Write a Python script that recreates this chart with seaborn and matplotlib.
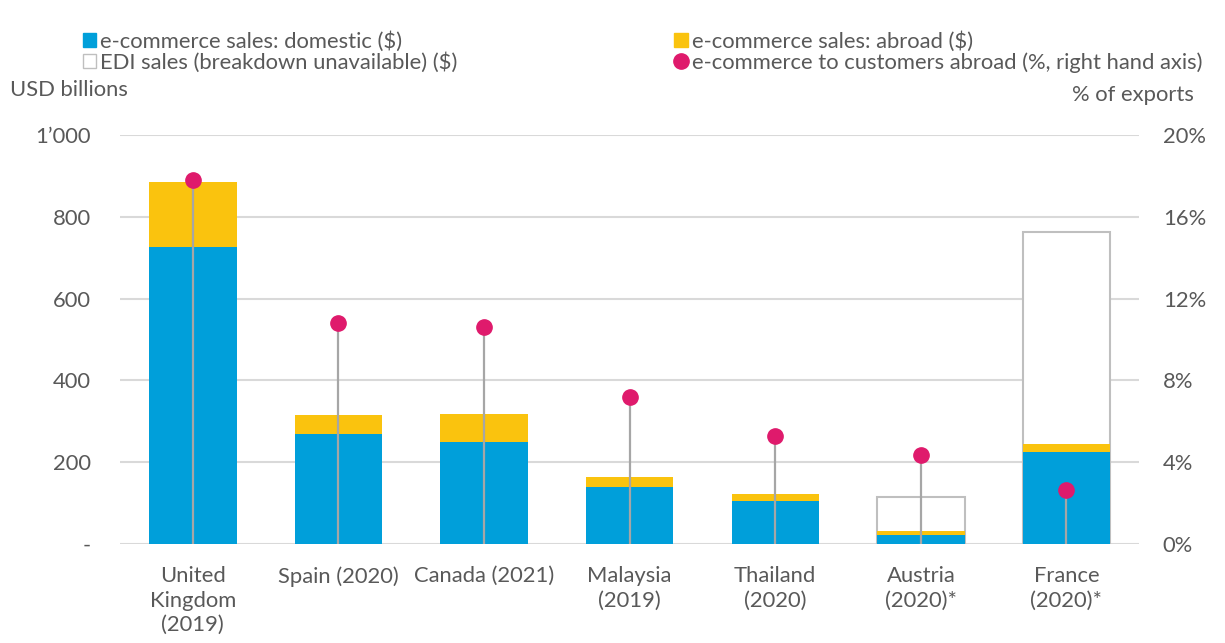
import numpy as np
import pandas as pd
import matplotlib
matplotlib.use('Agg')
import matplotlib.pyplot as plt
import seaborn as sns
from matplotlib.patches import Patch
from matplotlib.lines import Line2D
from matplotlib.ticker import FuncFormatter

# 数据
countries = ['United\nKingdom\n(2019)', 'Spain (2020)', 'Canada (2021)', 'Malaysia\n(2019)',
             'Thailand\n(2020)', 'Austria\n(2020)*', 'France\n(2020)*']
domestic = [725, 269, 250, 140, 105, 22, 225]
abroad = [161, 47, 68, 24, 17, 10, 20]
edi_total = [0, 0, 0, 0, 0, 115, 762]
pct_abroad = [17.8, 10.8, 10.6, 7.2, 5.3, 4.35, 2.65]

c_blue = '#009FDA'
c_yellow = '#FAC30E'
c_pink = '#DF1A6C'
c_grey = '#BFBFBF'
c_text = '#595959'
fs = 15.8

sns.set_style('white')
plt.rcParams['font.family'] = ['Lato', 'DejaVu Sans']
plt.rcParams['font.size'] = fs

df = pd.DataFrame({'country': countries, 'domestic': domestic, 'abroad': abroad,
                   'edi': edi_total, 'pct': pct_abroad})
df['ecom_total'] = df['domestic'] + df['abroad']

fig = plt.figure(figsize=(12.25, 6.43), dpi=100)
ax = fig.add_axes([0.098, 0.154, 0.832, 0.636])

# 叠加柱状图：EDI外框 -> 海外 -> 国内
sns.barplot(data=df, x='country', y='edi', ax=ax, color='white', edgecolor=c_grey,
            linewidth=1.5, width=0.6, saturation=1)
sns.barplot(data=df, x='country', y='ecom_total', ax=ax, color=c_yellow, width=0.6,
            saturation=1, linewidth=0)
sns.barplot(data=df, x='country', y='domestic', ax=ax, color=c_blue, width=0.6,
            saturation=1, linewidth=0)

ax.set_ylim(0, 1000)
ax.set_xlim(-0.5, 6.5)
ax.set_yticks(range(0, 1001, 200))
ax.yaxis.set_major_formatter(FuncFormatter(
    lambda v, p: '-' if v == 0 else ('1\u2019000' if v == 1000 else f'{int(v)}')))
ax.grid(axis='y', color='#D9D9D9', linewidth=1.5)
ax.set_axisbelow(True)
ax.set_xlabel('')
ax.set_ylabel('')
sns.despine(ax=ax, left=True, bottom=True)
ax.tick_params(axis='y', length=0, pad=21, colors=c_text, labelsize=fs)
ax.tick_params(axis='x', length=0, pad=16, colors=c_text, labelsize=fs)
for lab in ax.get_xticklabels():
    lab.set_linespacing(1.28)

# 右轴：海外客户占比
ax2 = ax.twinx()
xpos = np.arange(len(countries))
ax2.vlines(xpos, 0, df['pct'], color='#A6A6A6', linewidth=1.6, zorder=3)
ax2.plot(xpos, df['pct'], 'o', color=c_pink, markersize=11, zorder=4)
ax2.set_ylim(0, 20)
ax2.set_yticks(range(0, 21, 4))
ax2.yaxis.set_major_formatter(FuncFormatter(lambda v, p: f'{int(v)}%'))
ax2.tick_params(axis='y', length=0, pad=17, colors=c_text, labelsize=fs)
for s in ax2.spines.values():
    s.set_visible(False)

# 图例
h1 = [Patch(facecolor=c_blue, edgecolor=c_blue),
      Patch(facecolor='white', edgecolor=c_grey)]
l1 = ['e-commerce sales: domestic ($)', 'EDI sales (breakdown unavailable) ($)']
h2 = [Patch(facecolor=c_yellow, edgecolor=c_yellow),
      Line2D([], [], marker='o', color=c_pink, linestyle='none', markersize=11)]
l2 = ['e-commerce sales: abroad ($)', 'e-commerce to customers abroad (%, right hand axis)']
for h, l, xa in [(h1, l1, 0.055), (h2, l2, 0.538)]:
    fig.legend(h, l, loc='upper left', bbox_to_anchor=(xa, 0.975), frameon=False,
               handlelength=0.6, handleheight=0.6, handletextpad=0.2,
               labelspacing=0.0, fontsize=fs, labelcolor=c_text, borderpad=0.2)

fig.text(0.008, 0.86, 'USD billions', color=c_text, fontsize=fs, va='center')
fig.text(0.975, 0.852, '% of exports', color=c_text, fontsize=fs, va='center', ha='right')

fig.savefig('out.png', dpi=100)
